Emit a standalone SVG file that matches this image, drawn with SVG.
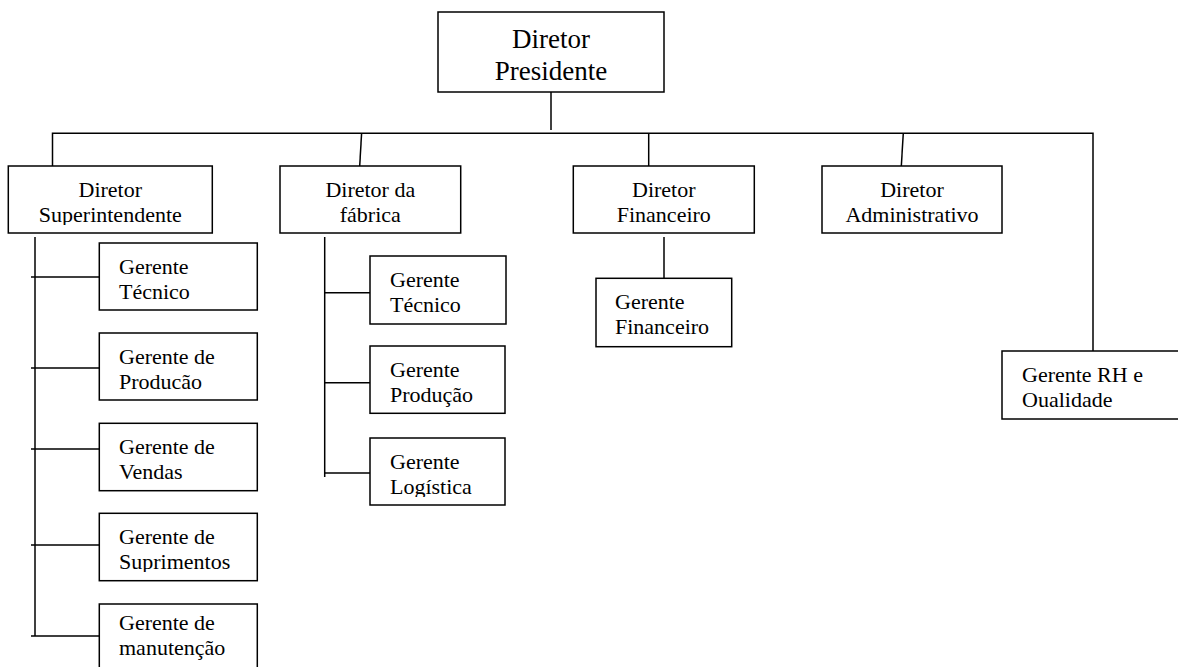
<svg xmlns="http://www.w3.org/2000/svg" width="1178" height="667" viewBox="0 0 1178 667">
  <style>
    .box { fill: #fff; stroke: #000; stroke-width: 1.5; }
    .ln { fill: none; stroke: #000; stroke-width: 1.5; }
    text { font-family: "Liberation Serif", "Times New Roman", serif; fill: #000; font-size: 22px; }
    .big { font-size: 27px; }
    .c { text-anchor: middle; }
  </style>
  <defs>
    <!-- text frames that cut off the descenders of the second line -->
    <clipPath id="clipSuper"><rect x="8" y="166" width="205" height="59"/></clipPath>
    <clipPath id="clipSupr"><rect x="99" y="513" width="158" height="59"/></clipPath>
    <clipPath id="clipLog"><rect x="370" y="438" width="136" height="59"/></clipPath>
  </defs>
  <rect width="1178" height="667" fill="#fff"/>

  <!-- connectors -->
  <g id="connectors">
    <path class="ln" d="M551,92 V130"/>
    <path class="ln" d="M52.5,168 V133.3 H1093 V351"/>
    <path class="ln" d="M361.6,133.3 L359.7,166"/>
    <path class="ln" d="M648.7,133.3 V168"/>
    <path class="ln" d="M903.3,133.3 L901.3,166"/>
    <!-- Superintendente branch -->
    <path class="ln" d="M35,237 V636"/>
    <path class="ln" d="M31,277 H99 M31,368 H99 M31,449 H99 M31,545 H99 M31,636 H99"/>
    <!-- fábrica branch -->
    <path class="ln" d="M324.7,237 V477"/>
    <path class="ln" d="M324.7,292.7 H370 M324.7,382.7 H370 M324.7,473 H370"/>
    <!-- Financeiro branch -->
    <path class="ln" d="M664,237 V278"/>
  </g>

  <g id="diretor-presidente">
    <rect class="box" x="438" y="12" width="226" height="80"/>
    <text class="big c" x="551" y="48">Diretor</text>
    <text class="big c" x="551" y="80">Presidente</text>
  </g>

  <g id="diretor-superintendente">
    <rect class="box" x="8.3" y="166" width="204" height="67"/>
    <g clip-path="url(#clipSuper)">
      <text class="c" x="110.3" y="197">Diretor</text>
      <text class="c" x="110.3" y="222">Superintendente</text>
    </g>
  </g>

  <g id="diretor-fabrica">
    <rect class="box" x="280" y="166" width="180.7" height="67"/>
    <text class="c" x="370.3" y="197">Diretor da</text>
    <text class="c" x="370.3" y="222">fábrica</text>
  </g>

  <g id="diretor-financeiro">
    <rect class="box" x="573.3" y="166" width="181" height="67"/>
    <text class="c" x="663.8" y="197">Diretor</text>
    <text class="c" x="663.8" y="222">Financeiro</text>
  </g>

  <g id="diretor-administrativo">
    <rect class="box" x="822" y="166" width="180" height="67"/>
    <text class="c" x="912" y="197">Diretor</text>
    <text class="c" x="912" y="222">Administrativo</text>
  </g>

  <!-- Superintendente managers -->
  <g id="gerente-tecnico-1">
    <rect class="box" x="99.3" y="243" width="158" height="67"/>
    <text x="119" y="274">Gerente</text>
    <text x="119" y="299">Técnico</text>
  </g>
  <g id="gerente-producao-1">
    <rect class="box" x="99.3" y="333" width="158" height="67"/>
    <text x="119" y="364">Gerente de</text>
    <text x="119" y="389">Producão</text>
  </g>
  <g id="gerente-vendas">
    <rect class="box" x="99.3" y="423.3" width="158" height="67.4"/>
    <text x="119" y="454">Gerente de</text>
    <text x="119" y="479">Vendas</text>
  </g>
  <g id="gerente-suprimentos">
    <rect class="box" x="99.3" y="513.3" width="158" height="67.4"/>
    <g clip-path="url(#clipSupr)">
      <text x="119" y="544">Gerente de</text>
      <text x="119" y="569">Suprimentos</text>
    </g>
  </g>
  <g id="gerente-manutencao">
    <rect class="box" x="99.3" y="604" width="158" height="70"/>
    <text x="119" y="630">Gerente de</text>
    <text x="119" y="655">manutenção</text>
  </g>

  <!-- fábrica managers -->
  <g id="gerente-tecnico-2">
    <rect class="box" x="370" y="256" width="136" height="68"/>
    <text x="390" y="287">Gerente</text>
    <text x="390" y="312">Técnico</text>
  </g>
  <g id="gerente-producao-2">
    <rect class="box" x="370" y="346" width="135" height="67.3"/>
    <text x="390" y="377">Gerente</text>
    <text x="390" y="402">Produção</text>
  </g>
  <g id="gerente-logistica">
    <rect class="box" x="370" y="438" width="135" height="67"/>
    <g clip-path="url(#clipLog)">
      <text x="390" y="469">Gerente</text>
      <text x="390" y="494">Logística</text>
    </g>
  </g>

  <g id="gerente-financeiro">
    <rect class="box" x="596" y="278.3" width="135.7" height="68.4"/>
    <text x="615" y="309">Gerente</text>
    <text x="615" y="334">Financeiro</text>
  </g>

  <g id="gerente-rh">
    <rect class="box" x="1002" y="351" width="190" height="68"/>
    <text x="1022" y="382">Gerente RH e</text>
    <text x="1022" y="407">Oualidade</text>
  </g>
</svg>
